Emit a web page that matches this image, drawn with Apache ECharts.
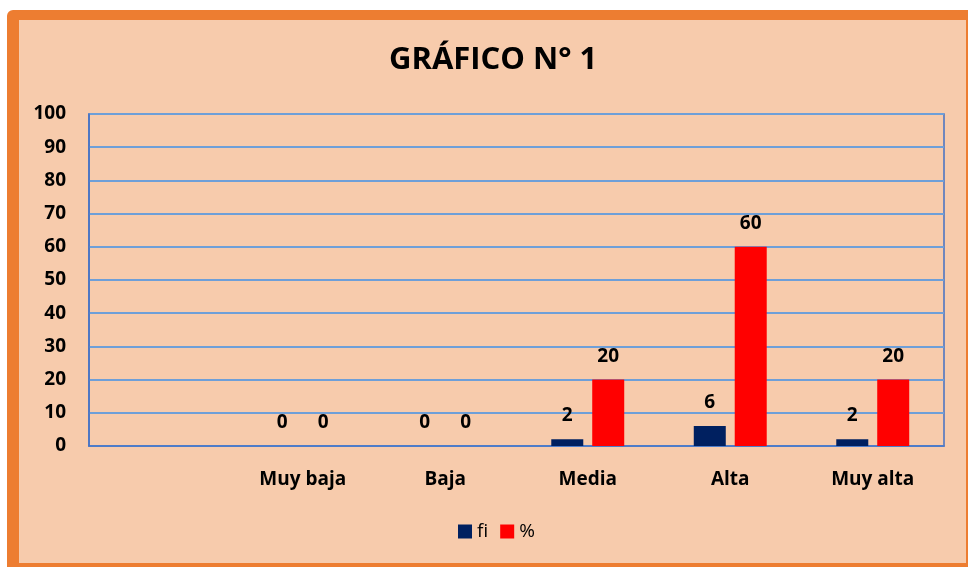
<!DOCTYPE html>
<html>
<head>
<meta charset="utf-8">
<script src="https://cdn.jsdelivr.net/npm/echarts@6/dist/echarts.min.js"></script>
<style>
  html, body { margin: 0; padding: 0; background: #ffffff; }
  .frame {
    position: absolute; left: 7px; top: 10px; width: 947px; height: 543px;
    background: #F7CBAC;
    border-left: 12px solid #ED7D31; border-top: 10px solid #ED7D31;
    border-right: 2px solid #ED7D31; border-bottom: 4px solid #ED7D31;
    border-top-left-radius: 6px;
  }
  #chart { position: absolute; left: 0; top: 0; width: 968px; height: 567px; }
</style>
</head>
<body>
<div class="frame"></div>
<div id="chart"></div>
<script>
// datos
const categories = ['', 'Muy baja', 'Baja', 'Media', 'Alta', 'Muy alta']
const fiValues = [null, 0, 0, 2, 6, 2]
const pctValues = [null, 0, 0, 20, 60, 20]
const yTicks = { min: 0, max: 100, interval: 10 }

const chart = echarts.init(document.getElementById('chart'))

const FONT = 'Open Sans'

const labelStyle = {
  show: true,
  position: 'top',
  distance: 14,
  color: '#000',
  fontFamily: FONT,
  fontWeight: 'bold',
  fontSize: 19
}

const option = {
  backgroundColor: 'transparent',
  title: {
    text: 'GRÁFICO N° 1',
    left: 384,
    top: 40,
    textStyle: { fontFamily: FONT, fontWeight: 'bold', fontSize: 31, color: '#000' }
  },
  grid: {
    left: 89, right: 24, top: 114, bottom: 121,
    show: true, borderColor: '#4472C4', borderWidth: 1.5, backgroundColor: 'transparent'
  },
  legend: {
    bottom: 21,
    left: 453,
    itemWidth: 14,
    itemHeight: 14,
    itemGap: 12,
    icon: 'rect',
    textStyle: { fontFamily: FONT, fontSize: 19, color: '#000' },
    data: ['fi', '%']
  },
  xAxis: {
    type: 'category',
    data: categories,
    axisLine: { show: true, lineStyle: { color: '#4472C4', width: 1.5 } },
    axisTick: { show: false },
    axisLabel: { color: '#000', fontFamily: FONT, fontWeight: 'bold', fontSize: 19, margin: 24 }
  },
  yAxis: {
    type: 'value',
    min: yTicks.min,
    max: yTicks.max,
    interval: yTicks.interval,
    axisLine: { show: true, lineStyle: { color: '#4472C4', width: 1.5 } },
    axisTick: { show: false },
    axisLabel: { color: '#000', fontFamily: FONT, fontWeight: 'bold', fontSize: 19, margin: 23 },
    splitLine: { lineStyle: { color: '#6E9FD8', width: 2 } }
  },
  series: [
    {
      name: 'fi',
      type: 'bar',
      data: fiValues,
      barWidth: 32,
      barGap: '28%',
      itemStyle: { color: '#002060' },
      label: labelStyle
    },
    {
      name: '%',
      type: 'bar',
      data: pctValues,
      barWidth: 32,
      itemStyle: { color: '#FF0000' },
      label: labelStyle
    }
  ]
}

chart.setOption(option)
</script>
</body>
</html>
